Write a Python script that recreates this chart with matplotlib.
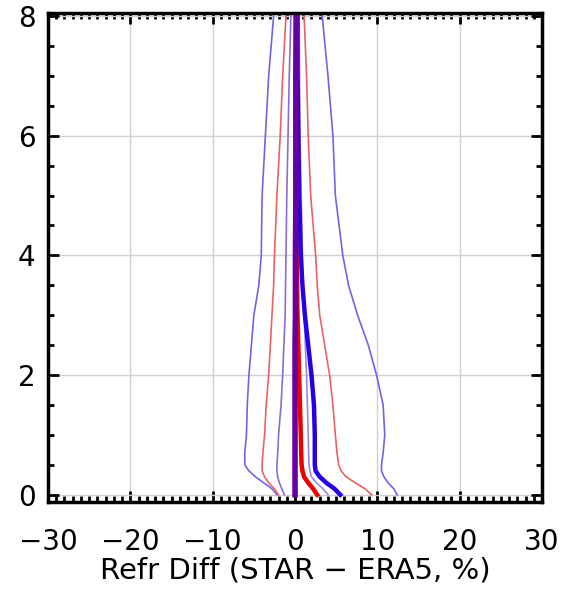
import matplotlib
matplotlib.use("Agg")
import matplotlib.pyplot as plt
from matplotlib.ticker import MultipleLocator

# heights (km) shared by all profiles
height = [0.0, 0.1, 0.2, 0.3, 0.4, 0.5, 0.7, 1.0, 1.5, 2.0, 2.5, 3.0, 3.5, 4.0, 5.0, 6.0, 7.0, 8.0]

# refractivity difference profiles (%)
blue_lo = [-2.2, -2.8, -3.8, -4.8, -5.6, -6.1, -6.1, -5.9, -5.8, -5.6, -5.3, -5.0, -4.4, -4.1, -4.0, -3.6, -3.2, -2.6]
blue_hi = [12.4, 12.0, 11.3, 10.8, 10.5, 10.5, 10.7, 10.9, 10.7, 9.9, 8.9, 7.6, 6.5, 5.8, 4.9, 4.6, 4.0, 3.3]
red_lo = [-2.0, -2.5, -3.2, -3.7, -4.0, -4.0, -3.9, -3.7, -3.5, -3.2, -3.0, -2.8, -2.6, -2.5, -2.2, -1.8, -1.5, -1.1]
red_hi = [9.3, 8.5, 7.3, 6.2, 5.6, 5.3, 5.1, 4.9, 4.6, 4.2, 3.6, 3.0, 2.7, 2.5, 1.9, 1.6, 1.4, 1.1]
purple_lo = [-1.3, -1.6, -1.9, -2.1, -2.2, -2.2, -2.1, -2.0, -1.7, -1.5, -1.35, -1.2, -1.15, -1.1, -1.0, -0.85, -0.7, -0.5]
purple_hi = [4.0, 3.4, 2.6, 2.0, 1.8, 1.7, 1.65, 1.6, 1.5, 1.4, 1.25, 1.1, 1.0, 0.9, 0.75, 0.6, 0.55, 0.5]
mean_all = [0.0, 0.0, 0.0, 0.0, 0.0, 0.0, 0.0, 0.0, 0.0, 0.0, 0.0, 0.05, 0.05, 0.05, 0.1, 0.1, 0.1, 0.15]
red_mid = [2.7, 2.2, 1.6, 1.1, 0.9, 0.8, 0.75, 0.7, 0.6, 0.5, 0.4, 0.3, 0.25, 0.2, 0.15, 0.1, 0.1, 0.1]
blue_mid = [5.5, 4.8, 3.8, 3.0, 2.5, 2.4, 2.4, 2.4, 2.3, 2.0, 1.6, 1.2, 0.9, 0.7, 0.5, 0.4, 0.3, 0.3]

xticks = [-30, -20, -10, 0, 10, 20, 30]
yticks = [0, 2, 4, 6, 8]

plt.rcParams['font.family'] = ['DejaVu Sans']

fig = plt.figure(figsize=(5.64, 5.93), dpi=100)
ax = fig.add_axes([0.0851, 0.1535, 0.876, 0.8246])

ax.plot(blue_lo, height, color=(0.42, 0.40, 0.92), lw=1.2)
ax.plot(blue_hi, height, color=(0.42, 0.40, 0.92), lw=1.2)
ax.plot(red_lo, height, color=(0.93, 0.38, 0.38), lw=1.2)
ax.plot(red_hi, height, color=(0.93, 0.38, 0.38), lw=1.2)
ax.plot(purple_lo, height, color=(0.55, 0.42, 0.85), lw=1.2)
ax.plot(purple_hi, height, color=(0.62, 0.52, 0.92), lw=1.2)
ax.plot(red_mid, height, color=(0.92, 0.0, 0.0), lw=3.2)
ax.plot(blue_mid, height, color=(0.15, 0.0, 0.90), lw=3.2)
ax.plot(mean_all, height, color=(0.40, 0.0, 0.62), lw=4)

ax.set_xlim(-30, 30)
ax.set_ylim(-0.12, 8.05)
ax.set_xticks(xticks)
ax.set_xticklabels([str(v).replace('-', '\u2212') for v in xticks])
ax.set_yticks(yticks)
ax.xaxis.set_minor_locator(MultipleLocator(1))
ax.yaxis.set_minor_locator(MultipleLocator(0.5))

ax.grid(True, which='major', color=(0.82, 0.82, 0.82), lw=1)
ax.set_axisbelow(True)

ax.tick_params(which='both', direction='in', top=True, right=True, width=2, labelsize=20)
ax.tick_params(which='major', length=8)
ax.tick_params(which='minor', length=4)
ax.tick_params(axis='x', which='major', pad=19)
ax.tick_params(axis='y', which='major', pad=9)
for s in ax.spines.values():
    s.set_linewidth(2.5)

ax.set_xlabel('Refr Diff (STAR \u2212 ERA5, %)', fontsize=21, labelpad=0)

fig.savefig('out.png', dpi=100)
